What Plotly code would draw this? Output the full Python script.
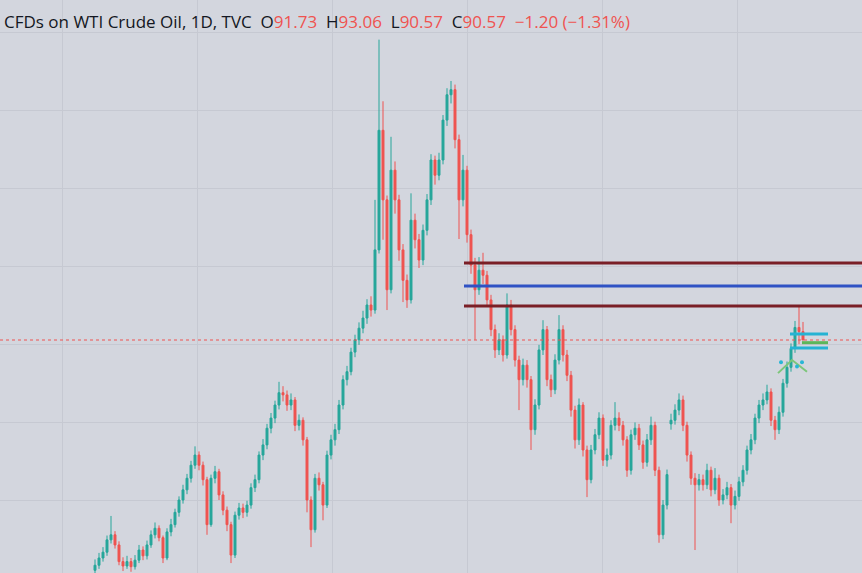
import plotly.graph_objects as go

# daily WTI candles (one bar per slot)
opens = [
    58.8, 59.5, 60.5, 61.3, 63.0, 63.7, 62.3, 60.0, 59.4, 60.0,
    59.3, 60.2, 61.6, 60.8, 62.3, 63.7, 64.6, 63.3, 60.5, 64.1,
    65.1, 66.8, 68.5, 69.9, 71.5, 73.3, 74.7, 73.3, 71.3, 65.1,
    71.5, 72.4, 69.2, 67.1, 65.1, 60.9, 66.4, 67.4, 66.8, 67.8,
    70.2, 71.3, 74.7, 76.1, 78.4, 79.8, 81.6, 83.3, 83.0, 81.6,
    82.3, 78.8, 79.5, 76.8, 68.5, 64.4, 71.5, 70.6, 67.8, 74.7,
    76.8, 78.2, 81.6, 85.1, 86.2, 88.9, 90.6, 92.2, 93.6, 95.4,
    94.7, 103.0, 119.5, 109.9, 97.5, 114.0, 109.9, 103.0, 98.8, 96.1,
    107.1, 104.4, 101.6, 105.7, 109.9, 115.4, 113.3, 115.4, 120.9, 124.4,
    125.1, 118.2, 109.9, 114.0, 105.1, 100.9, 97.5, 100.2, 99.5, 96.1,
    92.0, 89.2, 90.6, 88.5, 95.4, 92.0, 87.8, 85.1, 87.1, 85.1,
    78.2, 81.6, 89.2, 92.0, 85.1, 83.7, 87.8, 92.0, 88.5, 85.7,
    80.9, 76.8, 81.6, 75.4, 71.3, 75.4, 77.5, 79.8, 74.0, 74.7,
    78.8, 79.8, 78.8, 76.8, 72.6, 77.5, 78.4, 76.1, 73.7, 76.8,
    78.8, 72.6, 63.7, 67.8, 79.0, 79.5, 80.9, 82.3, 78.8, 74.7,
    71.5, 70.6, 71.3, 70.6, 72.6, 69.9, 71.5, 68.5, 69.2, 70.2,
    67.8, 69.0, 71.0, 72.6, 75.4, 76.8, 79.8, 81.6, 82.3, 83.4,
    79.5, 78.2, 80.6, 84.6, 86.8, 89.4, 92.3, 91.73,
]
highs = [
    60.3, 61.2, 62.0, 63.6, 66.3, 64.2, 62.8, 60.6, 60.8, 60.5,
    60.9, 62.3, 62.1, 62.9, 64.3, 65.4, 65.0, 63.6, 64.6, 65.9,
    67.3, 69.0, 70.6, 72.1, 73.9, 75.9, 75.2, 73.8, 71.7, 72.0,
    73.2, 72.8, 69.7, 67.6, 65.5, 66.9, 68.1, 68.0, 68.4, 70.8,
    72.0, 75.2, 76.9, 79.0, 80.5, 82.2, 84.8, 84.2, 83.6, 83.2,
    82.7, 80.3, 79.9, 77.2, 69.0, 72.1, 72.3, 71.0, 75.3, 77.5,
    79.0, 82.3, 85.7, 87.0, 89.5, 91.3, 93.0, 94.6, 96.2, 96.6,
    109.9, 132.0, 123.5, 110.5, 118.6, 115.2, 110.6, 103.8, 99.6, 110.8,
    108.0, 105.2, 106.5, 110.7, 116.2, 116.0, 116.4, 121.6, 125.3, 126.3,
    125.8, 118.9, 116.1, 114.6, 105.8, 101.9, 102.0, 102.6, 100.1, 96.8,
    92.7, 91.5, 91.2, 97.0, 96.1, 92.6, 88.4, 88.0, 87.8, 85.6,
    82.4, 89.9, 93.3, 92.5, 85.8, 88.6, 94.0, 92.6, 89.2, 86.3,
    81.5, 82.5, 82.0, 76.0, 76.1, 78.3, 80.6, 80.3, 75.6, 79.5,
    82.0, 80.6, 79.4, 77.3, 78.2, 79.2, 79.0, 76.7, 77.6, 80.0,
    79.3, 73.1, 68.5, 72.7, 80.4, 81.7, 83.2, 82.9, 79.3, 75.2,
    72.2, 72.1, 72.0, 73.5, 73.1, 72.9, 72.0, 70.0, 71.0, 70.7,
    69.8, 71.7, 73.3, 76.0, 77.6, 80.4, 82.3, 83.2, 84.4, 83.9,
    80.1, 81.4, 85.2, 87.6, 90.1, 93.2, 95.4, 93.06,
]
lows = [
    58.1, 59.0, 60.0, 60.8, 62.5, 61.8, 59.5, 58.7, 59.0, 58.6,
    58.9, 59.8, 60.2, 60.3, 61.9, 63.2, 62.8, 59.8, 60.2, 63.5,
    64.7, 66.2, 68.0, 69.3, 70.9, 72.8, 72.6, 70.5, 63.7, 64.8,
    70.8, 68.5, 66.4, 64.2, 59.8, 60.5, 65.8, 66.0, 66.2, 67.3,
    69.6, 70.8, 74.0, 75.5, 77.7, 79.1, 81.0, 82.1, 80.8, 80.9,
    78.0, 78.1, 76.0, 66.8, 62.0, 64.0, 69.8, 65.7, 67.4, 74.1,
    76.0, 77.6, 81.0, 84.3, 85.7, 88.2, 89.9, 91.5, 92.8, 93.8,
    94.2, 102.5, 104.4, 94.7, 97.0, 108.0, 101.5, 95.8, 95.0, 95.6,
    103.2, 100.5, 100.9, 105.0, 109.2, 112.0, 112.6, 114.8, 120.1, 123.2,
    117.0, 104.5, 109.0, 104.0, 99.7, 90.6, 96.8, 98.3, 95.2, 91.1,
    88.1, 88.5, 87.6, 88.0, 91.2, 86.9, 80.9, 84.3, 84.0, 75.4,
    77.5, 81.0, 88.5, 84.2, 82.7, 83.1, 87.2, 87.6, 84.9, 80.0,
    75.6, 76.1, 74.5, 68.9, 70.8, 74.8, 76.9, 73.2, 73.1, 74.1,
    78.1, 78.0, 76.0, 71.7, 72.0, 76.8, 75.4, 72.8, 73.1, 76.1,
    71.8, 62.6, 63.1, 67.2, 78.2, 78.9, 80.2, 78.0, 73.8, 70.6,
    61.6, 69.8, 69.8, 70.0, 69.0, 69.3, 67.7, 67.9, 68.6, 65.3,
    67.2, 68.4, 70.4, 72.0, 74.8, 76.2, 79.1, 80.9, 81.7, 78.7,
    76.8, 77.6, 80.0, 84.0, 86.2, 88.8, 90.0, 90.57,
]
closes = [
    59.5, 60.5, 61.3, 63.0, 63.7, 62.3, 60.0, 59.4, 60.0, 59.3,
    60.2, 61.6, 60.8, 62.3, 63.7, 64.6, 63.3, 60.5, 64.1, 65.1,
    66.8, 68.5, 69.9, 71.5, 73.3, 74.7, 73.3, 71.3, 65.1, 71.5,
    72.4, 69.2, 67.1, 65.1, 60.9, 66.4, 67.4, 66.8, 67.8, 70.2,
    71.3, 74.7, 76.1, 78.4, 79.8, 81.6, 83.3, 83.0, 81.6, 82.3,
    78.8, 79.5, 76.8, 68.5, 64.4, 71.5, 70.6, 67.8, 74.7, 76.8,
    78.2, 81.6, 85.1, 86.2, 88.9, 90.6, 92.2, 93.6, 95.4, 94.7,
    103.0, 119.5, 109.9, 97.5, 114.0, 109.9, 103.0, 98.8, 96.1, 107.1,
    104.4, 101.6, 105.7, 109.9, 115.4, 113.3, 115.4, 120.9, 124.4, 125.1,
    118.2, 109.9, 114.0, 105.1, 100.9, 97.5, 100.2, 99.5, 96.1, 92.0,
    89.2, 90.6, 88.5, 95.4, 92.0, 87.8, 85.1, 87.1, 85.1, 78.2,
    81.6, 89.2, 92.0, 85.1, 83.7, 87.8, 92.0, 88.5, 85.7, 80.9,
    76.8, 81.6, 75.4, 71.3, 75.4, 77.5, 79.8, 74.0, 74.7, 78.8,
    79.8, 78.8, 76.8, 72.6, 77.5, 78.4, 76.1, 73.7, 76.8, 78.8,
    72.6, 63.7, 67.8, 72.0, 79.5, 80.9, 82.3, 78.8, 74.7, 71.5,
    70.6, 71.3, 70.6, 72.6, 69.9, 71.5, 68.5, 69.2, 70.2, 67.8,
    69.0, 71.0, 72.6, 75.4, 76.8, 79.8, 81.6, 82.3, 83.4, 79.5,
    78.2, 80.6, 84.6, 86.8, 89.4, 92.3, 91.73, 90.57,
]
bars = list(range(len(closes)))

last_close = 90.57
zone_levels = [101.19, 95.26]      # maroon lines
mid_level = [98.02]                 # blue line
target_levels = [91.40, 89.47]      # cyan
green_levels = [90.2]
wedge_x = [170.75, 174.25, 178.0]
wedge_y = [86.0, 87.8, 86.2]
dot_x = [171.5, 175.5, 176.75]
dot_y = [87.5, 86.9, 87.5]

UP, DOWN = "#26a69a", "#ef5350"
BG = "#d3d6de"

fig = go.Figure()
fig.add_trace(go.Candlestick(
    x=bars, open=opens, high=highs, low=lows, close=closes,
    increasing={"line": {"color": UP, "width": 1}, "fillcolor": UP},
    decreasing={"line": {"color": DOWN, "width": 1}, "fillcolor": DOWN},
    whiskerwidth=0, showlegend=False, hoverinfo="skip"))
fig.add_trace(go.Scatter(x=wedge_x, y=wedge_y, mode="lines",
                         line={"color": "#7cc67a", "width": 2},
                         showlegend=False, hoverinfo="skip"))
fig.add_trace(go.Scatter(x=dot_x, y=dot_y, mode="markers",
                         marker={"color": "#29b6d6", "size": 4},
                         showlegend=False, hoverinfo="skip"))

shapes = [dict(type="line", xref="paper", x0=0, x1=1, y0=last_close, y1=last_close,
               line={"color": DOWN, "width": 1, "dash": "dot"})]
for lv in zone_levels:
    shapes.append(dict(type="line", x0=92.25, x1=200, y0=lv, y1=lv,
                       line={"color": "#7a1f26", "width": 3}))
for lv in mid_level:
    shapes.append(dict(type="line", x0=92.25, x1=200, y0=lv, y1=lv,
                       line={"color": "#2f52c4", "width": 3}))
for lv in target_levels:
    shapes.append(dict(type="line", x0=173.75, x1=183.25, y0=lv, y1=lv,
                       line={"color": "#26b3d3", "width": 3}))
for lv in green_levels:
    shapes.append(dict(type="line", x0=176.75, x1=183.25, y0=lv, y1=lv,
                       line={"color": "#5db65a", "width": 3}))

red = f"<span style='color:{DOWN}'>"
title = ("CFDs on WTI Crude Oil, 1D, TVC&nbsp;&nbsp;"
         f"O{red}91.73</span>&nbsp;&nbsp;H{red}93.06</span>&nbsp;&nbsp;"
         f"L{red}90.57</span>&nbsp;&nbsp;C{red}90.57</span>&nbsp;&nbsp;"
         f"{red}\u22121.20 (\u22121.31%)</span>")

fig.update_layout(
    width=862, height=573, margin={"l": 0, "r": 0, "t": 0, "b": 0},
    paper_bgcolor=BG, plot_bgcolor=BG, shapes=shapes,
    font={"family": "Open Sans", "color": "#131722"},
    annotations=[dict(text=title, xref="paper", yref="paper", x=0.002, y=0.962,
                      xanchor="left", yanchor="middle", showarrow=False,
                      font={"size": 17, "color": "#131722"})],
)
fig.update_xaxes(range=[-23.75, 191.75], showticklabels=False, zeroline=False,
                 rangeslider={"visible": False}, tick0=-8.25, dtick=33.75,
                 gridcolor="#c6c9d2", gridwidth=1)
fig.update_yaxes(range=[58.43, 137.47], showticklabels=False, zeroline=False,
                 tick0=122.29, dtick=10.76, gridcolor="#c6c9d2", gridwidth=1)

# drop the page's default body margin so the chart sits flush in the window
fig.write_html("out.html", config={"displayModeBar": False},
               post_script="document.body.style.margin='0';")
